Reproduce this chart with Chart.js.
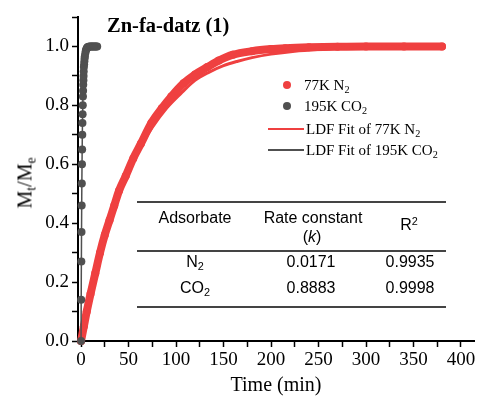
<!DOCTYPE html>
<html>
<head>
<meta charset="utf-8">
<script src="https://cdn.jsdelivr.net/npm/chart.js@4.4.1/dist/chart.umd.min.js"></script>
<style>
  body { margin: 0; background: #fff; }
  #wrap { position: relative; width: 478px; height: 398px; }
  .txt { position: absolute; white-space: nowrap; color: #000; }
  .serif { font-family: "Liberation Serif", "Times New Roman", serif; }
  .sans { font-family: "Liberation Sans", Arial, sans-serif; font-size: 16px; line-height: 18px; text-align: center; }
  sub { font-size: 0.68em; vertical-align: -0.3em; line-height: 0; }
  sup { font-size: 0.68em; vertical-align: 0.45em; line-height: 0; }
  .rule { position: absolute; left: 137px; width: 309px; height: 1.5px; background: #444; }
  .dot { position: absolute; width: 8px; height: 8px; border-radius: 50%; }
  .seg { position: absolute; width: 36px; height: 2px; }
</style>
</head>
<body>
<div id="wrap">
  <canvas id="myChart"></canvas>

  <div class="txt serif" style="left:107px; top:14px; font-size:20.5px; font-weight:bold; line-height:22px;">Zn-fa-datz (1)</div>

  <div class="txt serif" style="left:25px; top:183px; font-size:20px; transform:translate(-50%,-50%) rotate(-90deg);">M<sub>t</sub>/M<sub>e</sub></div>

  <!-- legend -->
  <div class="dot" style="left:283px; top:81px; background:#ef4040;"></div>
  <div class="txt serif" style="left:304px; top:76px; font-size:15px; line-height:18px;">77K N<sub>2</sub></div>
  <div class="dot" style="left:283px; top:102px; background:#505050;"></div>
  <div class="txt serif" style="left:304px; top:97px; font-size:15px; line-height:18px;">195K CO<sub>2</sub></div>
  <div class="seg" style="left:268px; top:128px; background:#ef4040;"></div>
  <div class="txt serif" style="left:306px; top:120px; font-size:15px; line-height:18px;">LDF Fit of 77K N<sub>2</sub></div>
  <div class="seg" style="left:268px; top:149px; background:#505050;"></div>
  <div class="txt serif" style="left:306px; top:141px; font-size:15px; line-height:18px;">LDF Fit of 195K CO<sub>2</sub></div>

  <!-- table -->
  <div class="rule" style="top:201px;"></div>
  <div class="rule" style="top:250px;"></div>
  <div class="rule" style="top:306px;"></div>
  <div class="txt sans" style="left:145px; width:100px; top:209px;">Adsorbate</div>
  <div class="txt sans" style="left:253px; width:120px; top:209px;">Rate constant</div>
  <div class="txt sans" style="left:252px; width:120px; top:228px;">(<i>k</i>)</div>
  <div class="txt sans" style="left:379px; width:60px; top:216px;">R<sup>2</sup></div>
  <div class="txt sans" style="left:145px; width:100px; top:253px;">N<sub>2</sub></div>
  <div class="txt sans" style="left:261px; width:100px; top:253px;">0.0171</div>
  <div class="txt sans" style="left:380px; width:60px; top:253px;">0.9935</div>
  <div class="txt sans" style="left:145px; width:100px; top:279px;">CO<sub>2</sub></div>
  <div class="txt sans" style="left:261px; width:100px; top:279px;">0.8883</div>
  <div class="txt sans" style="left:380px; width:60px; top:279px;">0.9998</div>
</div>

<script>
// 77K N2 uptake (time in min, Mt/Me)
const n2Time = [0, 3, 6, 10, 15, 20, 25, 30, 35, 40, 47, 55, 63, 74, 85, 95, 108, 120, 133, 145, 160, 180, 200, 215, 240, 270, 300, 340, 380];
const n2Uptake = [0, 0.05, 0.1, 0.16, 0.23, 0.3, 0.36, 0.41, 0.46, 0.51, 0.56, 0.62, 0.67, 0.74, 0.79, 0.83, 0.875, 0.905, 0.93, 0.952, 0.972, 0.984, 0.991, 0.994, 0.997, 0.999, 1, 1, 1];

// LDF fit of 77K N2
const n2FitTime = [0, 10, 20, 30, 40, 50, 60, 75, 90, 105, 120, 135, 150, 165, 180, 200, 225, 250, 280, 320, 380];
const n2FitUptake = [0, 0.16, 0.29, 0.4, 0.5, 0.58, 0.645, 0.725, 0.79, 0.84, 0.885, 0.913, 0.935, 0.95, 0.962, 0.974, 0.984, 0.99, 0.995, 0.998, 1];

// 195K CO2 uptake
const co2Time = [0, 0.17, 0.33, 0.5, 0.67, 0.83, 1, 1.17, 1.33, 1.5, 1.67, 1.83, 2, 2.17, 2.33, 2.5, 2.67, 2.83, 3, 3.25, 3.5, 3.75, 4, 4.5, 5, 5.5, 6, 6.5, 7, 8, 9, 10, 11, 12, 13, 14, 15, 16, 17];
const co2Uptake = [0, 0.14, 0.27, 0.37, 0.46, 0.535, 0.6, 0.65, 0.7, 0.74, 0.77, 0.8, 0.83, 0.85, 0.87, 0.885, 0.9, 0.915, 0.93, 0.94, 0.95, 0.96, 0.967, 0.977, 0.985, 0.99, 0.994, 0.996, 0.998, 0.999, 1, 1, 1, 1, 1, 1, 1, 1, 1];

// LDF fit of 195K CO2
const co2FitTime = [0, 0.25, 0.5, 0.75, 1, 1.5, 2, 2.5, 3, 4, 5, 6, 8, 10, 14, 17];
const co2FitUptake = [0, 0.2, 0.36, 0.49, 0.59, 0.74, 0.83, 0.89, 0.93, 0.97, 0.988, 0.995, 0.999, 1, 1, 1];

const xTickValues = [0, 25, 50, 75, 100, 125, 150, 175, 200, 225, 250, 275, 300, 325, 350, 375, 400];
const yTickValues = [0, 0.1, 0.2, 0.3, 0.4, 0.5, 0.6, 0.7, 0.8, 0.9, 1.0, 1.1];

const redColor = "#ef4040";
const greyColor = "#505050";
const serif = "'Liberation Serif', 'Times New Roman', serif";

const toPoints = (xs, ys) => xs.map((x, i) => ({ x: x, y: ys[i] }));

const ctx = document.getElementById("myChart");

new Chart(ctx, {
    type: "scatter",
    data: {
        datasets: [
            {
                label: "195K CO2",
                data: toPoints(co2Time, co2Uptake),
                backgroundColor: greyColor,
                borderColor: greyColor,
                pointRadius: 4,
                pointBorderWidth: 0,
                clip: 8,
                order: 1,
            },
            {
                label: "LDF Fit of 195K CO2",
                data: toPoints(co2FitTime, co2FitUptake),
                showLine: true,
                borderColor: greyColor,
                borderWidth: 1.5,
                pointRadius: 0,
                cubicInterpolationMode: "monotone",
                clip: 8,
                order: 0,
            },
            {
                // dense data points read as a continuous thick band
                label: "77K N2",
                data: toPoints(n2Time, n2Uptake),
                showLine: true,
                borderColor: redColor,
                backgroundColor: redColor,
                borderWidth: 8,
                borderCapStyle: "round",
                pointRadius: 4,
                pointBorderWidth: 0,
                cubicInterpolationMode: "monotone",
                clip: 8,
                order: 3,
            },
            {
                label: "LDF Fit of 77K N2",
                data: toPoints(n2FitTime, n2FitUptake),
                showLine: true,
                borderColor: redColor,
                borderWidth: 3,
                pointRadius: 0,
                cubicInterpolationMode: "monotone",
                clip: 8,
                order: 2,
            },
        ],
    },
    options: {
        responsive: true,
        maintainAspectRatio: false,
        animation: false,
        layout: {
            padding: { top: 17, right: 0, left: 0, bottom: 0 },
        },
        plugins: {
            legend: { display: false },
            tooltip: { enabled: false },
        },
        scales: {
            x: {
                type: "linear",
                min: -3.2,
                max: 413.7,
                afterFit: (scale) => {
                    scale.height = 57;
                },
                afterBuildTicks: (axis) => { axis.ticks = xTickValues.map((v) => ({ value: v })); },
                border: { display: true, color: "#000", width: 2 },
                grid: { drawOnChartArea: false, drawTicks: true, tickLength: 6, tickColor: "#000", tickWidth: 1.5 },
                ticks: {
                    color: "#000",
                    padding: 2,
                    maxRotation: 0,
                    autoSkip: false,
                    font: { family: serif, size: 19 },
                    callback: (value) => (value % 50 === 0 ? String(value) : ""),
                },
                title: {
                    display: true,
                    text: "Time (min)",
                    color: "#000",
                    font: { family: serif, size: 20 },
                    padding: { top: 0, bottom: 0 },
                },
            },
            y: {
                min: 0,
                max: 1.1,
                afterFit: (scale) => {
                    scale.width = 78;
                },
                afterBuildTicks: (axis) => { axis.ticks = yTickValues.map((v) => ({ value: v })); },
                border: { display: true, color: "#000", width: 2 },
                grid: { drawOnChartArea: false, drawTicks: true, tickLength: 6, tickColor: "#000", tickWidth: 1.5 },
                ticks: {
                    color: "#000",
                    padding: 3,
                    autoSkip: false,
                    font: { family: serif, size: 19 },
                    callback: function (value, index) {
                        if (index % 2 !== 0 || value > 1.05) return "";
                        return value.toFixed(1);
                    },
                },
            },
        },
    },
});
</script>
</body>
</html>
